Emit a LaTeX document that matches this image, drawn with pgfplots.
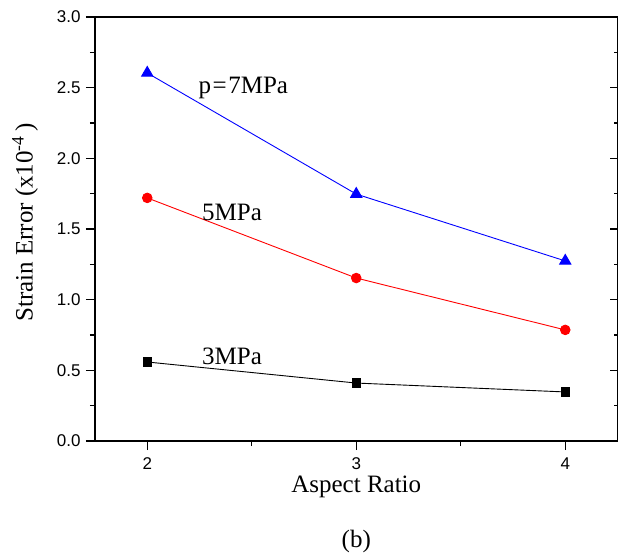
\documentclass[border=0pt]{standalone}
\usepackage{fontspec}
\setmainfont{Liberation Serif}
\newfontfamily\arialf{Liberation Sans}
\usepackage{pgfplots}
\pgfplotsset{compat=1.18}

\begin{document}
\begin{tikzpicture}[x=1bp,y=1bp]
\path[use as bounding box] (-95,-116) rectangle (524,441);
\pgfplotsset{
  common/.style={
    scale only axis, width=522.5bp, height=424bp,
    at={(0,0)}, anchor=south west,
    xmin=1.75, xmax=4.25, ymin=0, ymax=3.0,
    xtick={2,3,4}, ytick={0,0.5,...,3.0},
    minor xtick={2.5,3.5}, minor ytick={0.25,0.75,...,2.75},
    axis line style={line width=1.6bp},
    major tick style={line width=1.3bp, black},
    minor tick style={line width=1.3bp, black},
  }
}
\begin{axis}[common,
  axis x line*=bottom, axis y line*=left,
  tick align=outside,
  major tick length=9bp, minor tick length=5bp,
  /pgf/number format/assume math mode=true,
  /pgf/number format/.cd, fixed, fixed zerofill, precision=1, /pgfplots/.cd,
  xticklabel style={/pgf/number format/precision=0, /pgf/number format/fixed zerofill=false},
  ticklabel style={font=\arialf\fontsize{17bp}{20bp}\selectfont},
  xticklabel style={yshift=-4bp},
  yticklabel style={xshift=-2bp},
  xlabel={Aspect Ratio},
  ylabel={Strain Error (x10\textsuperscript{-4}\,)},
  label style={font=\fontsize{25bp}{30bp}\selectfont},
  xlabel style={at={(axis description cs:0.5,-0.109)}, anchor=center},
  ylabel style={at={(axis description cs:-0.134,0.515)}, anchor=center},
  clip=false,
]
\addplot[blue, line width=0.9bp, mark=triangle*, mark size=6.5bp, mark options={solid}]
  coordinates {(2,2.604) (3,1.747) (4,1.274)};
\addplot[red, line width=0.9bp, mark=*, mark size=4.8bp]
  coordinates {(2,1.720) (3,1.153) (4,0.786)};
\addplot[black, line width=0.9bp, mark=square*, mark size=4.3bp]
  coordinates {(2,0.559) (3,0.410) (4,0.347)};
\node[font=\fontsize{25bp}{30bp}\selectfont] at (axis cs:2.46,2.50) {p{\kern1.5bp}={\kern1.5bp}7MPa};
\node[font=\fontsize{25bp}{30bp}\selectfont] at (axis cs:2.406,1.62) {5MPa};
\node[font=\fontsize{25bp}{30bp}\selectfont] at (axis cs:2.406,0.60) {3MPa};
\node[font=\fontsize{25bp}{30bp}\selectfont] at (axis description cs:0.5,-0.236) {(b)};
\end{axis}
\begin{axis}[common,
  axis x line*=top, axis y line*=right,
  xtick=\empty, minor xtick=\empty,
  yticklabels={}, tick align=inside,
  major tick length=8bp, minor tick length=4bp,
]
\end{axis}
\end{tikzpicture}
\end{document}
